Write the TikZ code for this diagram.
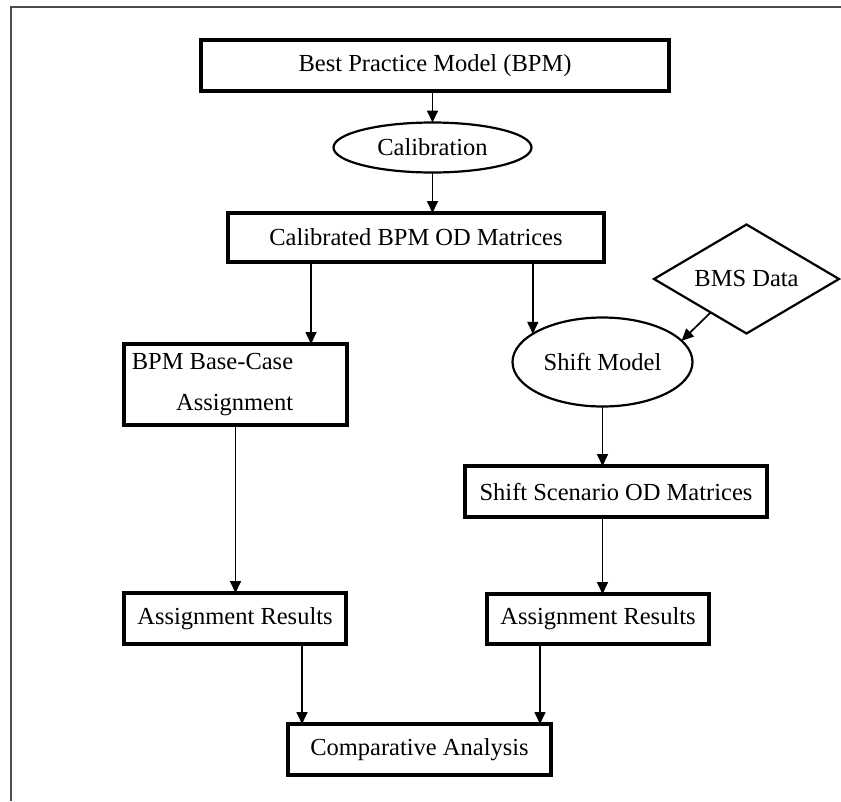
\documentclass[tikz,border=0pt]{standalone}
\usepackage{fontspec}
\setmainfont{Liberation Serif}
\usetikzlibrary{shapes.geometric,arrows.meta,calc}
\definecolor{framegray}{gray}{0.3}
\tikzset{
  txt/.style={font=\fontsize{24.5}{29}\selectfont, text=black},
  box/.style={txt, draw=black, line width=3.2pt, rectangle, inner sep=0pt, outer sep=0pt},
  ell/.style={txt, draw=black, line width=2.2pt, ellipse, inner sep=0pt, outer sep=0pt},
  dia/.style={txt, draw=black, line width=2.2pt, diamond, aspect=1.7, inner sep=0pt, outer sep=0pt},
  arr/.style={line width=1.7pt, -{Triangle[width=11pt,length=12pt]}}
}
\begin{document}
\begin{tikzpicture}[x=1pt,y=-1pt]
\useasboundingbox (0,0) rectangle (841,801);
\draw[framegray, line width=1.5pt] (11,801) -- (11,7) -- (841,7);

\node[box, minimum width=468, minimum height=51] (bpm) at (435,65.5) {Best Practice Model (BPM)};
\node[ell, minimum width=198, minimum height=50] (cal) at (432.5,147.5) {Calibration};
\node[box, minimum width=376, minimum height=49] (cbpm) at (416,237.5) {Calibrated BPM OD Matrices};
\node[box, minimum width=223, minimum height=81] (base) at (235.5,384.5) {};
\node[txt, align=right, font=\fontsize{24.5}{41}\selectfont, inner sep=0pt] (basetxt) at (212.5,385) {BPM Base-Case\\Assignment};
\node[ell, minimum width=180, minimum height=89] (sm) at (602.5,362) {Shift Model};
\node[dia, minimum width=185, minimum height=109] (bms) at (746.5,279) {BMS Data};
\node[box, minimum width=302, minimum height=51] (ssc) at (616,491.5) {Shift Scenario OD Matrices};
\node[box, minimum width=222, minimum height=51] (arL) at (235,618.5) {Assignment Results};
\node[box, minimum width=222, minimum height=50] (arR) at (598,619) {Assignment Results};
\node[box, minimum width=263, minimum height=51] (comp) at (419.5,749.5) {Comparative Analysis};

\draw[arr] (bpm.south -| cal.north) -- (cal.north);
\draw[arr] (cal.south) -- (cal.south |- cbpm.north);
\draw[arr] ([xshift=-105pt]cbpm.south) -- ([xshift=-105pt]cbpm.south |- base.north);
\draw[arr] (cbpm.south -| sm.158) -- (sm.158);
\draw[arr] (bms.223) -- (sm.15);
\draw[arr] (sm.south) -- (sm.south |- ssc.north);
\draw[arr] (sm.south |- ssc.south) -- (sm.south |- arR.north);
\draw[arr] (base.south) -- (base.south |- arL.north);
\draw[arr] ([xshift=67pt]arL.south) -- ([xshift=67pt]arL.south |- comp.north);
\draw[arr] ([xshift=-58pt]arR.south) -- ([xshift=-58pt]arR.south |- comp.north);
\end{tikzpicture}
\end{document}
